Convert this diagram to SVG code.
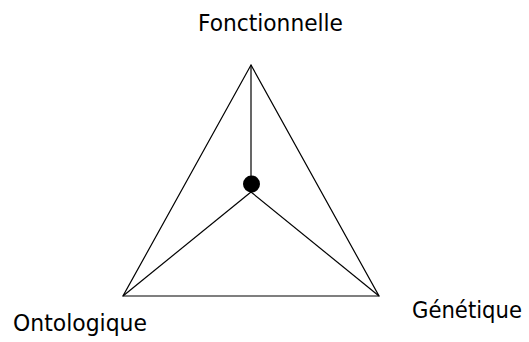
<svg xmlns="http://www.w3.org/2000/svg" width="529" height="342" viewBox="0 0 529 342">
<style>
.lbl{font-family:"DejaVu Sans","Verdana",sans-serif;font-size:23px;fill:#000}
.ln{stroke:#000;stroke-width:1.2;fill:none}
</style>
<rect width="529" height="342" fill="#fff"/>
<g id="connectors">
<polygon class="ln" points="251,65 123,296 379,296"/>
<line class="ln" x1="251" y1="65" x2="251" y2="184"/>
<line class="ln" x1="251" y1="192" x2="123" y2="296"/>
<line class="ln" x1="251" y1="192" x2="379" y2="296"/>
</g>
<g id="center">
<circle cx="251.5" cy="184" r="8.5" fill="#000"/>
</g>
<g id="fonctionnelle">
<text class="lbl" x="198" y="31" textLength="145" lengthAdjust="spacingAndGlyphs">Fonctionnelle</text>
</g>
<g id="ontologique">
<text class="lbl" x="13" y="331" textLength="134" lengthAdjust="spacingAndGlyphs">Ontologique</text>
</g>
<g id="genetique">
<text class="lbl" x="412" y="318" textLength="110" lengthAdjust="spacingAndGlyphs">Génétique</text>
</g>
</svg>
